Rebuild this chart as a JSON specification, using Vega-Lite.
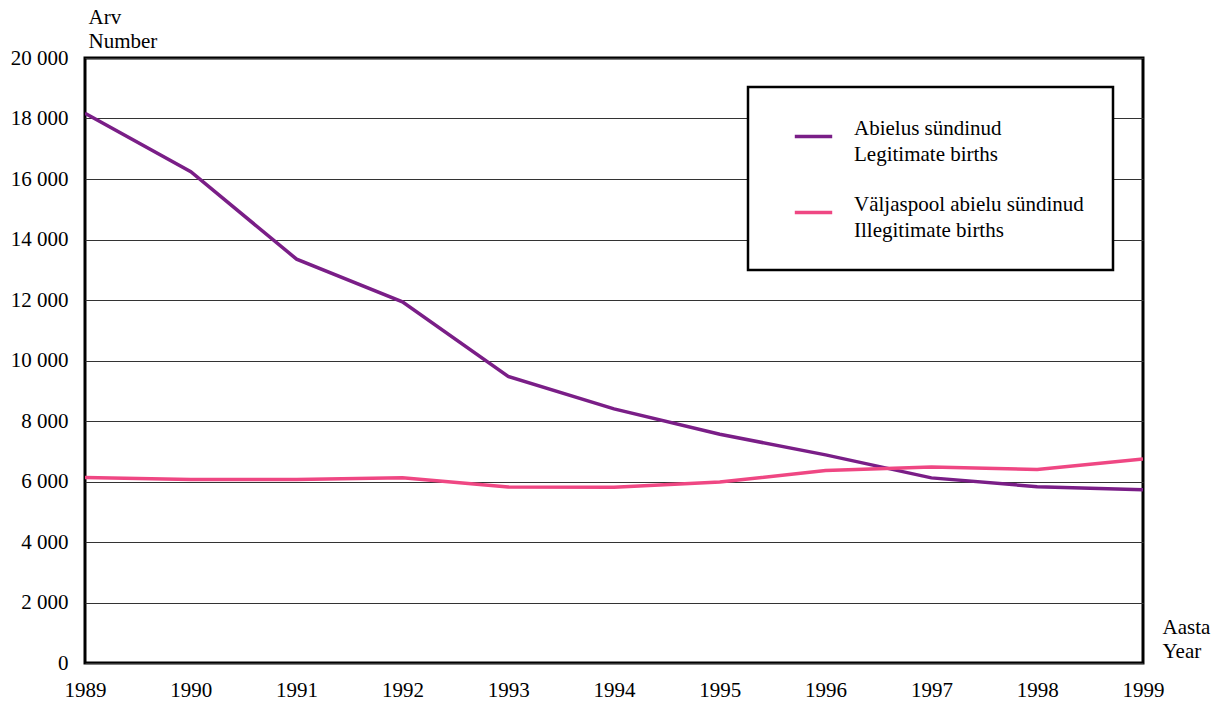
{
  "$schema": "https://vega.github.io/schema/vega-lite/v6.json",
  "autosize": {"type": "none"},
  "padding": {"left": 85, "top": 58, "right": 76, "bottom": 39},
  "width": 1058,
  "height": 605,
  "background": "white",
  "config": {
    "font": "Liberation Serif",
    "view": {"stroke": "black", "strokeWidth": 3},
    "axis": {"labelFont": "Liberation Serif", "titleFont": "Liberation Serif", "labelColor": "black", "titleColor": "black"},
    "legend": {"labelFont": "Liberation Serif"}
  },
  "data": {
    "values": [
      {"year": 1989, "series": "Abielus sündinud|Legitimate births", "value": 18170},
      {"year": 1990, "series": "Abielus sündinud|Legitimate births", "value": 16240},
      {"year": 1991, "series": "Abielus sündinud|Legitimate births", "value": 13350},
      {"year": 1992, "series": "Abielus sündinud|Legitimate births", "value": 11940},
      {"year": 1993, "series": "Abielus sündinud|Legitimate births", "value": 9470},
      {"year": 1994, "series": "Abielus sündinud|Legitimate births", "value": 8400},
      {"year": 1995, "series": "Abielus sündinud|Legitimate births", "value": 7560},
      {"year": 1996, "series": "Abielus sündinud|Legitimate births", "value": 6880},
      {"year": 1997, "series": "Abielus sündinud|Legitimate births", "value": 6120},
      {"year": 1998, "series": "Abielus sündinud|Legitimate births", "value": 5830},
      {"year": 1999, "series": "Abielus sündinud|Legitimate births", "value": 5730},
      {"year": 1989, "series": "Väljaspool abielu sündinud|Illegitimate births", "value": 6130},
      {"year": 1990, "series": "Väljaspool abielu sündinud|Illegitimate births", "value": 6070},
      {"year": 1991, "series": "Väljaspool abielu sündinud|Illegitimate births", "value": 6070},
      {"year": 1992, "series": "Väljaspool abielu sündinud|Illegitimate births", "value": 6120},
      {"year": 1993, "series": "Väljaspool abielu sündinud|Illegitimate births", "value": 5820},
      {"year": 1994, "series": "Väljaspool abielu sündinud|Illegitimate births", "value": 5810},
      {"year": 1995, "series": "Väljaspool abielu sündinud|Illegitimate births", "value": 5980},
      {"year": 1996, "series": "Väljaspool abielu sündinud|Illegitimate births", "value": 6360},
      {"year": 1997, "series": "Väljaspool abielu sündinud|Illegitimate births", "value": 6480},
      {"year": 1998, "series": "Väljaspool abielu sündinud|Illegitimate births", "value": 6400},
      {"year": 1999, "series": "Väljaspool abielu sündinud|Illegitimate births", "value": 6740}
    ]
  },
  "mark": {"type": "line", "strokeWidth": 3.5, "clip": true},
  "encoding": {
    "x": {
      "field": "year", "type": "quantitative",
      "scale": {"domain": [1989, 1999], "nice": false, "zero": false},
      "axis": {
        "values": [1989, 1990, 1991, 1992, 1993, 1994, 1995, 1996, 1997, 1998, 1999],
        "format": "d", "grid": false, "ticks": false, "domain": false,
        "labelFontSize": 21, "labelPadding": 16, "labelFlush": false, "labelOverlap": false,
        "title": ["Aasta", "Year"], "titleFontSize": 21, "titleFontWeight": "normal",
        "titleAngle": 0, "titleAlign": "left", "titleBaseline": "top",
        "titleX": 1077, "titleY": -47, "titleLineHeight": 24
      }
    },
    "y": {
      "field": "value", "type": "quantitative",
      "scale": {"domain": [0, 20000], "nice": false},
      "axis": {
        "values": [0, 2000, 4000, 6000, 8000, 10000, 12000, 14000, 16000, 18000, 20000],
        "labelExpr": "replace(format(datum.value, ','), ',', ' ')",
        "grid": true, "gridColor": "#333333", "gridWidth": 1, "gridOpacity": 1,
        "ticks": false, "domain": false,
        "labelFontSize": 21, "labelPadding": 17,
        "title": ["Arv", "Number"], "titleFontSize": 21, "titleFontWeight": "normal",
        "titleAngle": 0, "titleAlign": "left", "titleBaseline": "top",
        "titleX": 3, "titleY": -52, "titleLineHeight": 24
      }
    },
    "color": {
      "field": "series", "type": "nominal",
      "scale": {
        "domain": ["Abielus sündinud|Legitimate births", "Väljaspool abielu sündinud|Illegitimate births"],
        "range": ["#7a1e87", "#ef4783"]
      },
      "legend": {
        "orient": "none", "legendX": 663, "legendY": 29,
        "title": null,
        "labelExpr": "split(datum.label, '|')",
        "labelFontSize": 21, "labelLimit": 400, "labelOffset": 20, "labelColor": "black",
        "symbolType": "stroke", "symbolSize": 1400, "symbolStrokeWidth": 3.5,
        "symbolOffset": 16,
        "rowPadding": 27,
        "padding": 29,
        "strokeColor": "black", "fillColor": "white",
        "encode": {
          "labels": {"update": {"lineHeight": {"value": 26}, "dy": {"value": -8}}},
          "legend": {"update": {"strokeWidth": {"value": 2.5}}}
        }
      }
    }
  }
}
